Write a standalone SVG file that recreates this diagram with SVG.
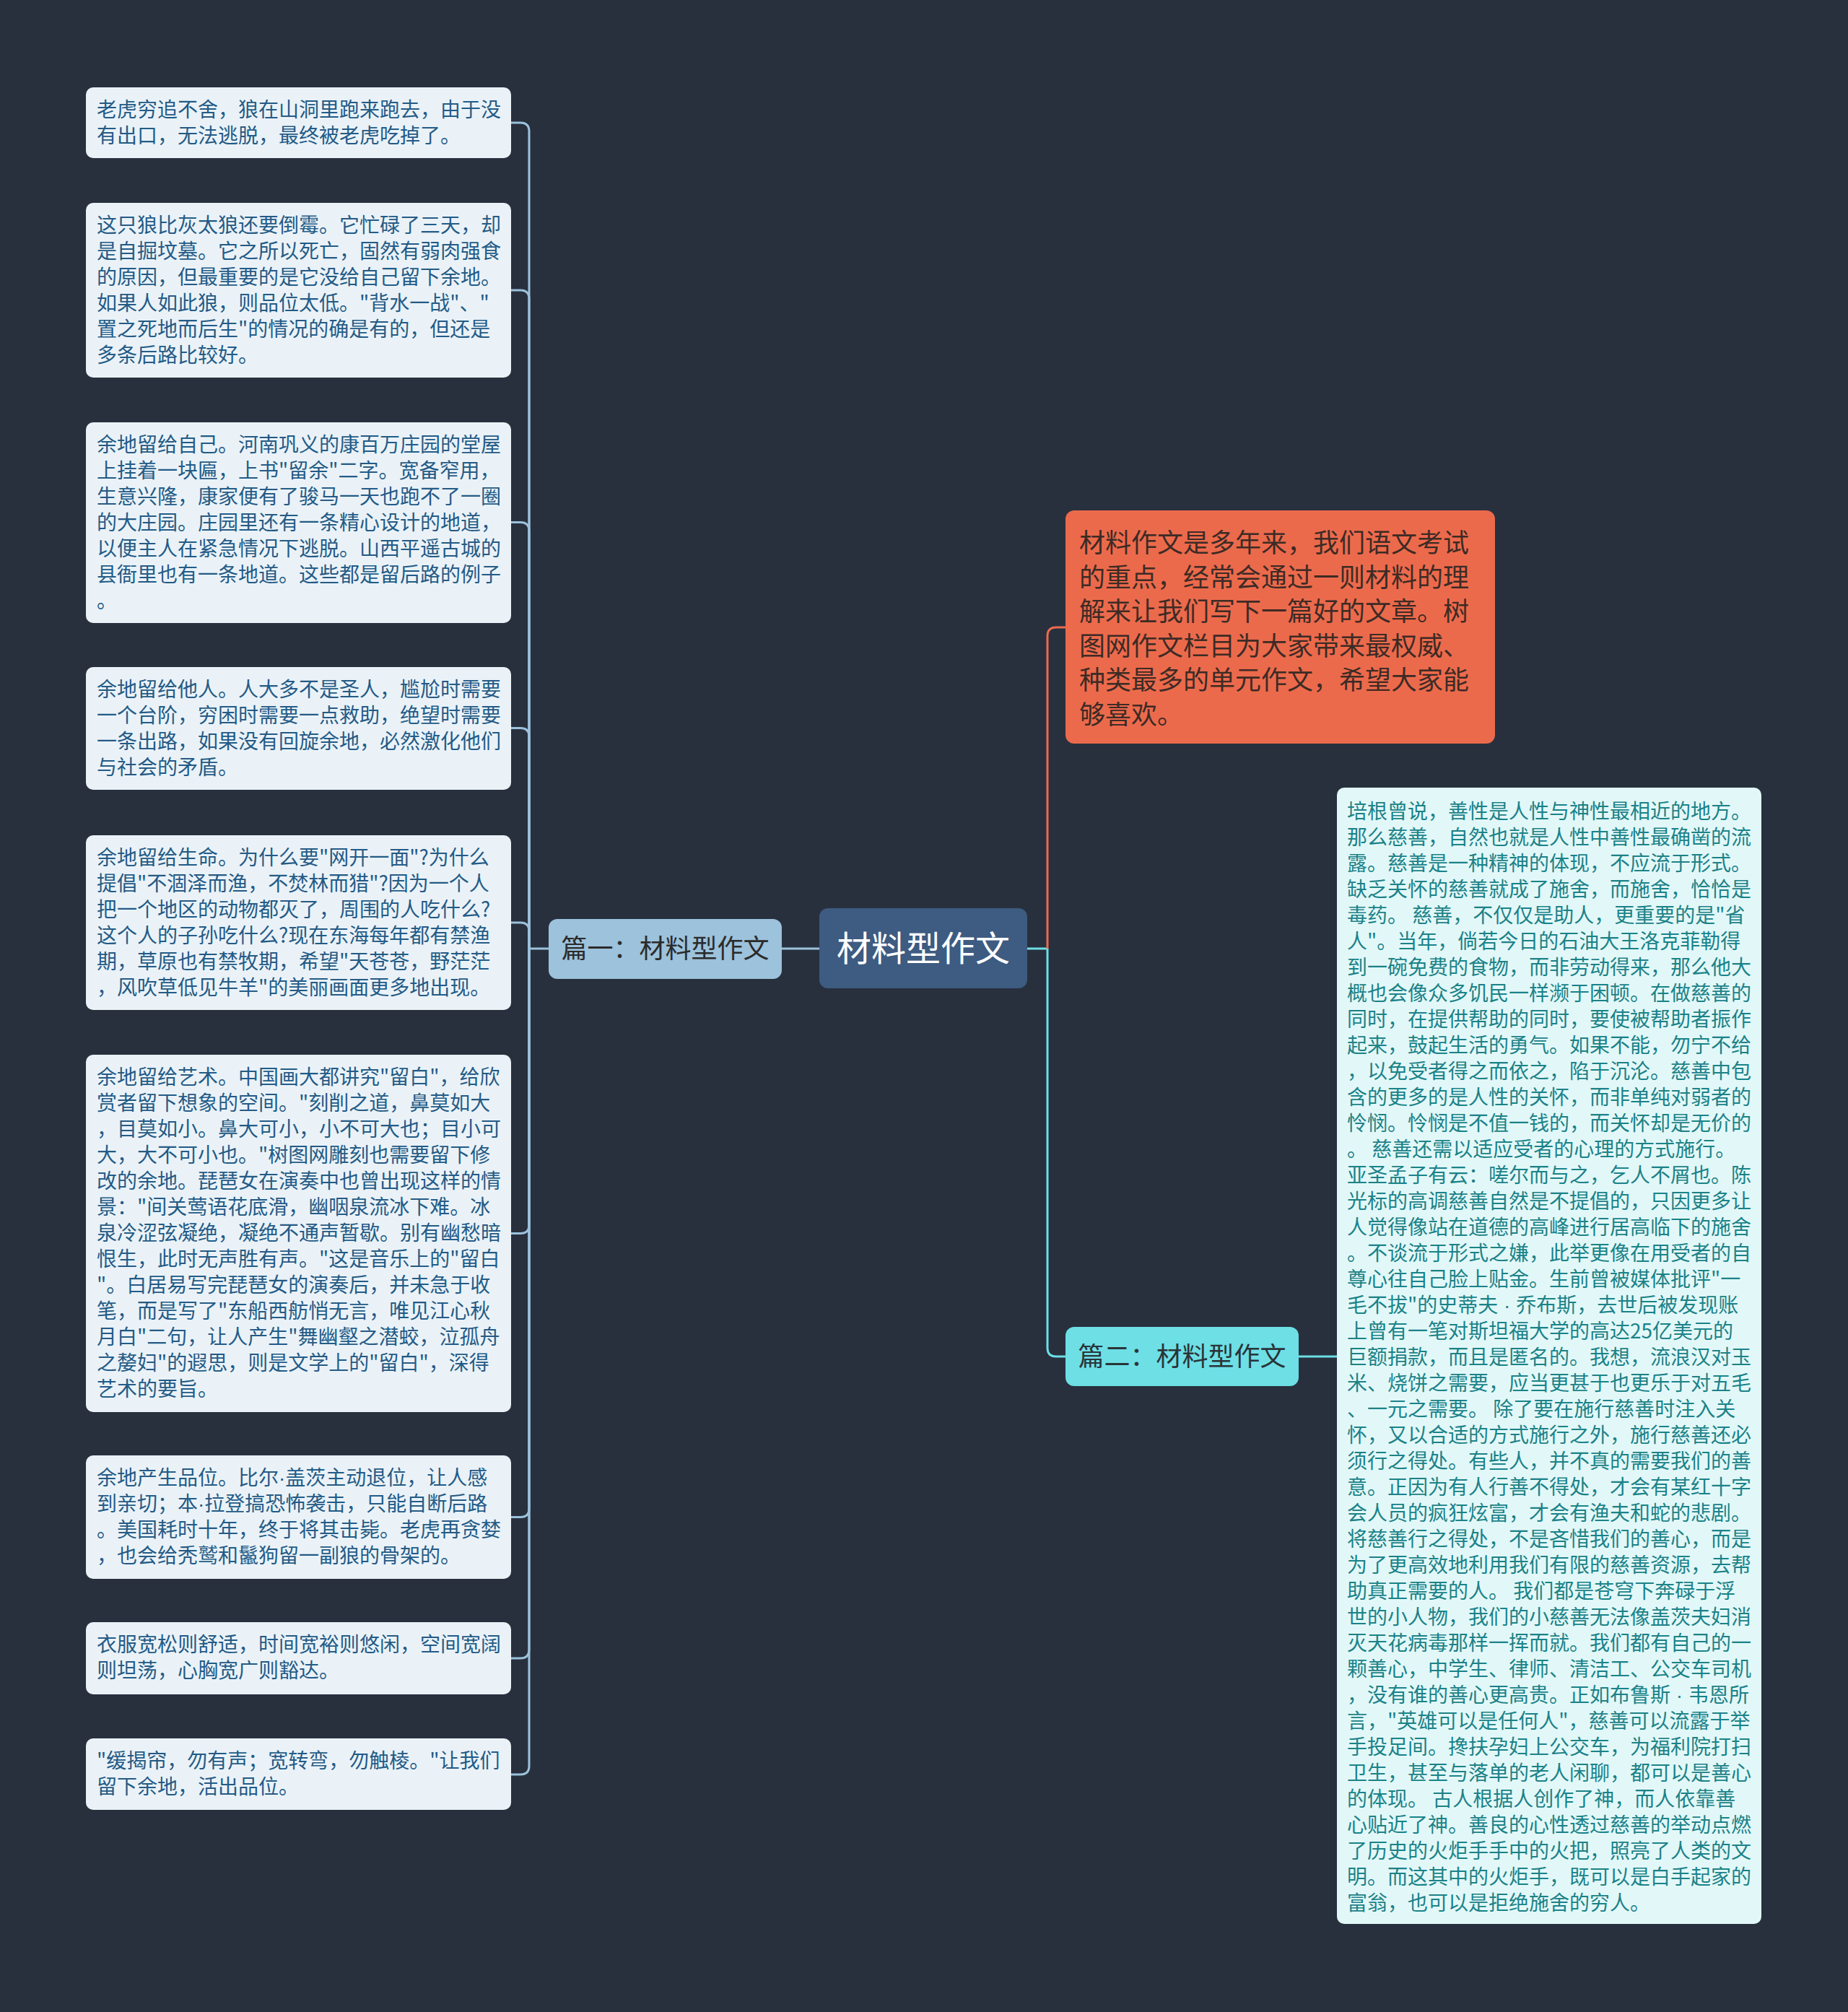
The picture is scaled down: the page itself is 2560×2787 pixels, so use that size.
<svg xmlns="http://www.w3.org/2000/svg" width="2560" height="2787" viewBox="0 0 2560 2787">
<style>
text{font-family:"Noto Sans CJK SC","Noto Sans",sans-serif;}
.lat{font-family:"Liberation Sans",sans-serif;}
.leaf{fill:#eaf2f8;}
.leaft{font-size:28px;fill:#245b86;}
.rleaf{fill:#e2f8f8;}
.rleaft{font-size:28px;fill:#1b8288;}
.cl{fill:none;stroke:#9cc2dc;stroke-width:3;}
.co{fill:none;stroke:#ec6a4c;stroke-width:3;}
.cc{fill:none;stroke:#6ddfe5;stroke-width:3;}
</style>
<rect width="2560" height="2787" fill="#28303e"/>
<g id="connectors">
<path class="cl" d="M733 1314 V182 Q733 170 721 170 H708"/>
<path class="cl" d="M733 1314 V414 Q733 402 721 402 H708"/>
<path class="cl" d="M733 1314 V735.5 Q733 723.5 721 723.5 H708"/>
<path class="cl" d="M733 1314 V1020.5 Q733 1008.5 721 1008.5 H708"/>
<path class="cl" d="M733 1314 V1290 Q733 1278 721 1278 H708"/>
<path class="cl" d="M733 1314 V1696.5 Q733 1708.5 721 1708.5 H708"/>
<path class="cl" d="M733 1314 V2089.5 Q733 2101.5 721 2101.5 H708"/>
<path class="cl" d="M733 1314 V2285 Q733 2297 721 2297 H708"/>
<path class="cl" d="M733 1314 V2446 Q733 2458 721 2458 H708"/>
<path class="cl" d="M733 1314 H760"/>
<path class="cl" d="M1083 1314 H1135"/>
<path class="cc" d="M1423 1314 H1451"/>
<path class="co" d="M1451 1314 V881 Q1451 869 1463 869 H1476"/>
<path class="cc" d="M1451 1314 V1867 Q1451 1879 1463 1879 H1476"/>
<path class="cc" d="M1799 1879 H1852"/>
</g>
<g id="root">
<rect x="1135" y="1258" width="288" height="111" rx="12" fill="#3e5b81"/>
<text x="1279" y="1331" text-anchor="middle" font-size="48" fill="#ffffff">材料型作文</text>
</g>
<g id="branch1">
<rect x="760" y="1273" width="323" height="83" rx="12" fill="#9cc2dc"/>
<text x="921.5" y="1327" text-anchor="middle" font-size="36" fill="#2b2b2b">篇一：材料型作文</text>
</g>
<g id="branch2">
<rect x="1476" y="1838" width="323" height="82" rx="12" fill="#6ddfe5"/>
<text x="1637.5" y="1892" text-anchor="middle" font-size="36" fill="#2a3438">篇二：材料型作文</text>
</g>
<g id="intro">
<rect x="1476" y="707" width="595" height="323" rx="12" fill="#ec6a4c"/>
<text x="1495" y="765" font-size="36" fill="#3d2b25"><tspan x="1495">材料作文是多年来，我们语文考试</tspan><tspan x="1495" dy="47.6">的重点，经常会通过一则材料的理</tspan><tspan x="1495" dy="47.6">解来让我们写下一篇好的文章。树</tspan><tspan x="1495" dy="47.6">图网作文栏目为大家带来最权威、</tspan><tspan x="1495" dy="47.6">种类最多的单元作文，希望大家能</tspan><tspan x="1495" dy="47.6">够喜欢。</tspan></text>
</g>
<g id="leaf1">
<rect class="leaf" x="119" y="121" width="589" height="98" rx="10"/>
<text class="leaft" x="134" y="162"><tspan x="134">老虎穷追不舍，狼在山洞里跑来跑去，由于没</tspan><tspan x="134" dy="36">有出口，无法逃脱，最终被老虎吃掉了。</tspan></text>
</g>
<g id="leaf2">
<rect class="leaf" x="119" y="281" width="589" height="242" rx="10"/>
<text class="leaft" x="134" y="322"><tspan x="134">这只狼比灰太狼还要倒霉。它忙碌了三天，却</tspan><tspan x="134" dy="36">是自掘坟墓。它之所以死亡，固然有弱肉强食</tspan><tspan x="134" dy="36">的原因，但最重要的是它没给自己留下余地。</tspan><tspan x="134" dy="36">如果人如此狼，则品位太低。"背水一战"、"</tspan><tspan x="134" dy="36">置之死地而后生"的情况的确是有的，但还是</tspan><tspan x="134" dy="36">多条后路比较好。</tspan></text>
</g>
<g id="leaf3">
<rect class="leaf" x="119" y="585" width="589" height="278" rx="10"/>
<text class="leaft" x="134" y="626"><tspan x="134">余地留给自己。河南巩义的康百万庄园的堂屋</tspan><tspan x="134" dy="36">上挂着一块匾，上书"留余"二字。宽备窄用，</tspan><tspan x="134" dy="36">生意兴隆，康家便有了骏马一天也跑不了一圈</tspan><tspan x="134" dy="36">的大庄园。庄园里还有一条精心设计的地道，</tspan><tspan x="134" dy="36">以便主人在紧急情况下逃脱。山西平遥古城的</tspan><tspan x="134" dy="36">县衙里也有一条地道。这些都是留后路的例子</tspan><tspan x="134" dy="36">。</tspan></text>
</g>
<g id="leaf4">
<rect class="leaf" x="119" y="924" width="589" height="170" rx="10"/>
<text class="leaft" x="134" y="965"><tspan x="134">余地留给他人。人大多不是圣人，尴尬时需要</tspan><tspan x="134" dy="36">一个台阶，穷困时需要一点救助，绝望时需要</tspan><tspan x="134" dy="36">一条出路，如果没有回旋余地，必然激化他们</tspan><tspan x="134" dy="36">与社会的矛盾。</tspan></text>
</g>
<g id="leaf5">
<rect class="leaf" x="119" y="1157" width="589" height="242" rx="10"/>
<text class="leaft" x="134" y="1198"><tspan x="134">余地留给生命。为什么要"网开一面"?为什么</tspan><tspan x="134" dy="36">提倡"不涸泽而渔，不焚林而猎"?因为一个人</tspan><tspan x="134" dy="36">把一个地区的动物都灭了，周围的人吃什么?</tspan><tspan x="134" dy="36">这个人的子孙吃什么?现在东海每年都有禁渔</tspan><tspan x="134" dy="36">期，草原也有禁牧期，希望"天苍苍，野茫茫</tspan><tspan x="134" dy="36">，风吹草低见牛羊"的美丽画面更多地出现。</tspan></text>
</g>
<g id="leaf6">
<rect class="leaf" x="119" y="1461" width="589" height="495" rx="10"/>
<text class="leaft" x="134" y="1502"><tspan x="134">余地留给艺术。中国画大都讲究"留白"，给欣</tspan><tspan x="134" dy="36">赏者留下想象的空间。"刻削之道，鼻莫如大</tspan><tspan x="134" dy="36">，目莫如小。鼻大可小，小不可大也；目小可</tspan><tspan x="134" dy="36">大，大不可小也。"树图网雕刻也需要留下修</tspan><tspan x="134" dy="36">改的余地。琵琶女在演奏中也曾出现这样的情</tspan><tspan x="134" dy="36">景："间关莺语花底滑，幽咽泉流冰下难。冰</tspan><tspan x="134" dy="36">泉冷涩弦凝绝，凝绝不通声暂歇。别有幽愁暗</tspan><tspan x="134" dy="36">恨生，此时无声胜有声。"这是音乐上的"留白</tspan><tspan x="134" dy="36">"。白居易写完琵琶女的演奏后，并未急于收</tspan><tspan x="134" dy="36">笔，而是写了"东船西舫悄无言，唯见江心秋</tspan><tspan x="134" dy="36">月白"二句，让人产生"舞幽壑之潜蛟，泣孤舟</tspan><tspan x="134" dy="36">之嫠妇"的遐思，则是文学上的"留白"，深得</tspan><tspan x="134" dy="36">艺术的要旨。</tspan></text>
</g>
<g id="leaf7">
<rect class="leaf" x="119" y="2016" width="589" height="171" rx="10"/>
<text class="leaft" x="134" y="2057"><tspan x="134">余地产生品位。比尔<tspan class="lat">·</tspan>盖茨主动退位，让人感</tspan><tspan x="134" dy="36">到亲切；本<tspan class="lat">·</tspan>拉登搞恐怖袭击，只能自断后路</tspan><tspan x="134" dy="36">。美国耗时十年，终于将其击毙。老虎再贪婪</tspan><tspan x="134" dy="36">，也会给秃鹫和鬣狗留一副狼的骨架的。</tspan></text>
</g>
<g id="leaf8">
<rect class="leaf" x="119" y="2247" width="589" height="100" rx="10"/>
<text class="leaft" x="134" y="2288"><tspan x="134">衣服宽松则舒适，时间宽裕则悠闲，空间宽阔</tspan><tspan x="134" dy="36">则坦荡，心胸宽广则豁达。</tspan></text>
</g>
<g id="leaf9">
<rect class="leaf" x="119" y="2408" width="589" height="99" rx="10"/>
<text class="leaft" x="134" y="2449"><tspan x="134">"缓揭帘，勿有声；宽转弯，勿触棱。"让我们</tspan><tspan x="134" dy="36">留下余地，活出品位。</tspan></text>
</g>
<g id="leaf10">
<rect class="rleaf" x="1852" y="1091" width="588" height="1574" rx="10"/>
<text class="rleaft" x="1866" y="1134"><tspan x="1866">培根曾说，善性是人性与神性最相近的地方。</tspan><tspan x="1866" dy="36">那么慈善，自然也就是人性中善性最确凿的流</tspan><tspan x="1866" dy="36">露。慈善是一种精神的体现，不应流于形式。</tspan><tspan x="1866" dy="36">缺乏关怀的慈善就成了施舍，而施舍，恰恰是</tspan><tspan x="1866" dy="36">毒药。 慈善，不仅仅是助人，更重要的是"省</tspan><tspan x="1866" dy="36">人"。当年，倘若今日的石油大王洛克菲勒得</tspan><tspan x="1866" dy="36">到一碗免费的食物，而非劳动得来，那么他大</tspan><tspan x="1866" dy="36">概也会像众多饥民一样濒于困顿。在做慈善的</tspan><tspan x="1866" dy="36">同时，在提供帮助的同时，要使被帮助者振作</tspan><tspan x="1866" dy="36">起来，鼓起生活的勇气。如果不能，勿宁不给</tspan><tspan x="1866" dy="36">，以免受者得之而依之，陷于沉沦。慈善中包</tspan><tspan x="1866" dy="36">含的更多的是人性的关怀，而非单纯对弱者的</tspan><tspan x="1866" dy="36">怜悯。怜悯是不值一钱的，而关怀却是无价的</tspan><tspan x="1866" dy="36">。 慈善还需以适应受者的心理的方式施行。</tspan><tspan x="1866" dy="36">亚圣孟子有云：嗟尔而与之，乞人不屑也。陈</tspan><tspan x="1866" dy="36">光标的高调慈善自然是不提倡的，只因更多让</tspan><tspan x="1866" dy="36">人觉得像站在道德的高峰进行居高临下的施舍</tspan><tspan x="1866" dy="36">。不谈流于形式之嫌，此举更像在用受者的自</tspan><tspan x="1866" dy="36">尊心往自己脸上贴金。生前曾被媒体批评"一</tspan><tspan x="1866" dy="36">毛不拔"的史蒂夫<tspan class="lat"> · </tspan>乔布斯，去世后被发现账</tspan><tspan x="1866" dy="36">上曾有一笔对斯坦福大学的高达25亿美元的</tspan><tspan x="1866" dy="36">巨额捐款，而且是匿名的。我想，流浪汉对玉</tspan><tspan x="1866" dy="36">米、烧饼之需要，应当更甚于也更乐于对五毛</tspan><tspan x="1866" dy="36">、一元之需要。 除了要在施行慈善时注入关</tspan><tspan x="1866" dy="36">怀，又以合适的方式施行之外，施行慈善还必</tspan><tspan x="1866" dy="36">须行之得处。有些人，并不真的需要我们的善</tspan><tspan x="1866" dy="36">意。正因为有人行善不得处，才会有某红十字</tspan><tspan x="1866" dy="36">会人员的疯狂炫富，才会有渔夫和蛇的悲剧。</tspan><tspan x="1866" dy="36">将慈善行之得处，不是吝惜我们的善心，而是</tspan><tspan x="1866" dy="36">为了更高效地利用我们有限的慈善资源，去帮</tspan><tspan x="1866" dy="36">助真正需要的人。 我们都是苍穹下奔碌于浮</tspan><tspan x="1866" dy="36">世的小人物，我们的小慈善无法像盖茨夫妇消</tspan><tspan x="1866" dy="36">灭天花病毒那样一挥而就。我们都有自己的一</tspan><tspan x="1866" dy="36">颗善心，中学生、律师、清洁工、公交车司机</tspan><tspan x="1866" dy="36">，没有谁的善心更高贵。正如布鲁斯<tspan class="lat"> · </tspan>韦恩所</tspan><tspan x="1866" dy="36">言，"英雄可以是任何人"，慈善可以流露于举</tspan><tspan x="1866" dy="36">手投足间。搀扶孕妇上公交车，为福利院打扫</tspan><tspan x="1866" dy="36">卫生，甚至与落单的老人闲聊，都可以是善心</tspan><tspan x="1866" dy="36">的体现。 古人根据人创作了神，而人依靠善</tspan><tspan x="1866" dy="36">心贴近了神。善良的心性透过慈善的举动点燃</tspan><tspan x="1866" dy="36">了历史的火炬手手中的火把，照亮了人类的文</tspan><tspan x="1866" dy="36">明。而这其中的火炬手，既可以是白手起家的</tspan><tspan x="1866" dy="36">富翁，也可以是拒绝施舍的穷人。</tspan></text>
</g>
</svg>
